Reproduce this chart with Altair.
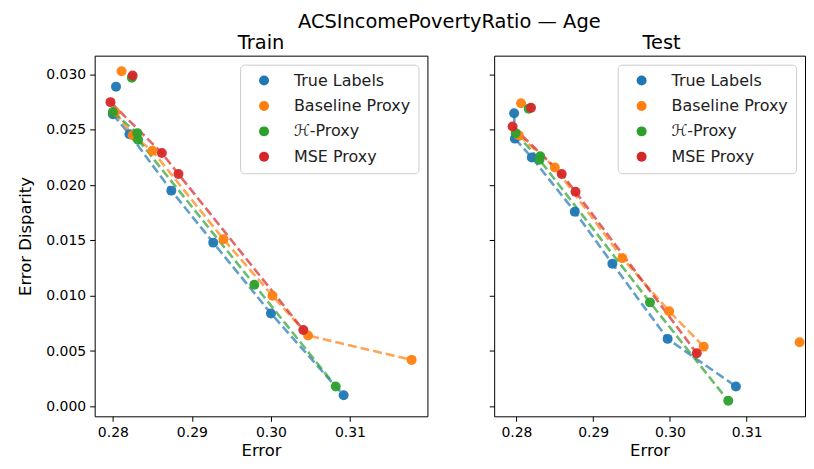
import altair as alt
import pandas as pd

FONT = "DejaVu Sans"
series_names = ["True Labels", "Baseline Proxy", "ℋ-Proxy", "MSE Proxy"]
series_colors = ["#1f77b4", "#ff7f0e", "#2ca02c", "#d62728"]

# Train panel
train_true_x = [0.2804, 0.2800, 0.2821, 0.2874, 0.2927, 0.3000, 0.3092]
train_true_y = [0.0289, 0.0264, 0.0246, 0.0195, 0.0148, 0.0084, 0.0010]
train_base_x = [0.2811, 0.2803, 0.2825, 0.2850, 0.2940, 0.3002, 0.3047, 0.3178]
train_base_y = [0.0303, 0.0266, 0.0245, 0.0231, 0.0151, 0.0100, 0.0064, 0.0042]
train_h_x = [0.2824, 0.2800, 0.2831, 0.2832, 0.2979, 0.3082]
train_h_y = [0.0297, 0.0266, 0.0247, 0.0241, 0.0110, 0.0018]
train_mse_x = [0.2825, 0.2797, 0.2862, 0.2883, 0.3041]
train_mse_y = [0.0299, 0.0275, 0.0229, 0.0210, 0.0069]

# Test panel
test_true_x = [0.2797, 0.2798, 0.2820, 0.2876, 0.2925, 0.2997, 0.3086]
test_true_y = [0.0265, 0.0242, 0.0225, 0.0176, 0.0129, 0.0061, 0.0018]
test_base_x = [0.2806, 0.2803, 0.2850, 0.2938, 0.2999, 0.3044, 0.3169]
test_base_y = [0.0274, 0.0245, 0.0216, 0.0134, 0.0086, 0.0054, 0.0058]
test_h_x = [0.2816, 0.2799, 0.2831, 0.2830, 0.2974, 0.3076]
test_h_y = [0.0269, 0.0247, 0.0226, 0.0223, 0.0094, 0.0005]
test_mse_x = [0.2819, 0.2795, 0.2859, 0.2877, 0.3035]
test_mse_y = [0.0270, 0.0253, 0.0210, 0.0194, 0.0048]

x_ticks = [0.28, 0.29, 0.30, 0.31]
y_ticks = [0.000, 0.005, 0.010, 0.015, 0.020, 0.025, 0.030]


def build_frame(xs_list, ys_list):
    rows = []
    for order, (name, xs, ys) in enumerate(zip(series_names, xs_list, ys_list)):
        for x, y in zip(xs, ys):
            rows.append({"series": name, "order": order, "error": x, "disparity": y})
    df = pd.DataFrame(rows)
    # Pareto front flag (min error, min disparity) per series
    df["front"] = False
    for name in series_names:
        sub = df[df.series == name].sort_values(["error", "disparity"])
        best = float("inf")
        for idx, r in sub.iterrows():
            if r.disparity < best:
                df.loc[idx, "front"] = True
                best = r.disparity
    return df


train_df = build_frame([train_true_x, train_base_x, train_h_x, train_mse_x],
                       [train_true_y, train_base_y, train_h_y, train_mse_y])
test_df = build_frame([test_true_x, test_base_x, test_h_x, test_mse_x],
                      [test_true_y, test_base_y, test_h_y, test_mse_y])

color_scale = alt.Scale(domain=series_names, range=series_colors)

legend = alt.Legend(title=None, orient="top-right", offset=9,
                    labelFontSize=16, labelFont=FONT, labelColor="#222222",
                    symbolType="circle", symbolSize=100, symbolOffset=8,
                    symbolStrokeWidth=0, symbolOpacity=1,
                    rowPadding=9.5, labelOffset=22, padding=8,
                    strokeColor="#cccccc", fillColor="white", cornerRadius=4)


def panel(df, title, xdom, width, show_y, title_dx):
    yaxis = alt.Axis(values=y_ticks, format=".3f", title="Error Disparity" if show_y else None,
                     labels=show_y, grid=False)
    x = alt.X("error:Q", scale=alt.Scale(domain=xdom, nice=False, zero=False),
              axis=alt.Axis(values=x_ticks, format=".2f", title="Error", grid=False))
    y = alt.Y("disparity:Q", scale=alt.Scale(domain=[-0.0009, 0.0317], nice=False, zero=False),
              axis=yaxis)
    color = alt.Color("series:N", scale=color_scale, sort=series_names, legend=legend)
    lines = alt.Chart(df).transform_filter("datum.front").mark_line(
        strokeDash=[9, 4], strokeWidth=2.6, opacity=0.7, clip=True
    ).encode(
        x=x, y=y, color=color,
        detail="series:N",
        order=alt.Order("error:Q"),
    )
    pts = alt.Chart(df).mark_circle(size=100, opacity=0.95, clip=True).encode(
        x=x, y=y, color=color,
        order=alt.Order("order:Q"),
    )
    return alt.layer(lines, pts).properties(
        width=width, height=362,
        title=alt.TitleParams(title, fontSize=19.5, font=FONT, fontWeight="normal",
                              anchor="middle", dx=title_dx, offset=2, color="black"),
    )


left = panel(train_df, "Train", [0.2777, 0.3198], 334, True, 0)
right = panel(test_df, "Test", [0.2771, 0.3176], 312, False, 12)

chart = alt.hconcat(left, right, spacing=60).resolve_scale(color="independent").properties(
    title=alt.TitleParams("ACSIncomePovertyRatio — Age", fontSize=19.5, font=FONT,
                          fontWeight="normal", anchor="middle", dx=38, offset=0, color="black"),
    padding={"left": 9, "top": 3, "right": 0, "bottom": 0},
).configure_view(stroke="black", strokeWidth=1).configure_axis(
    labelFont=FONT, titleFont=FONT, labelFontSize=14, titleFontSize=16.5,
    labelColor="black", titleColor="black", titleFontWeight="normal",
    domainColor="black", tickColor="black", tickSize=5, labelPadding=4,
    domain=False,
).configure_axisY(titlePadding=12).configure_axisX(titlePadding=3).configure_legend(
    labelFontSize=16, labelFont=FONT,
)

chart.save("out.html", embed_options={"renderer": "svg", "actions": False})
